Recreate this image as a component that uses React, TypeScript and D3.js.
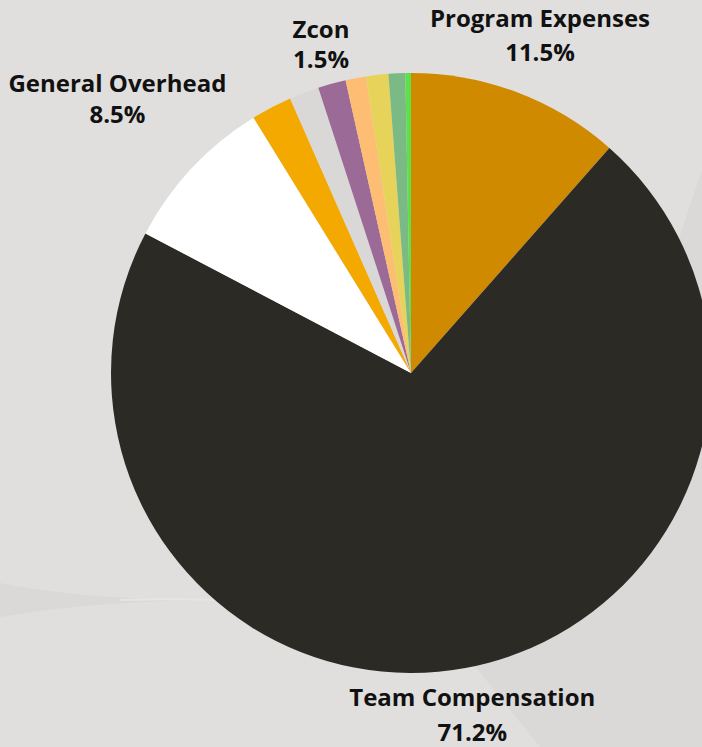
import React, {useEffect, useRef} from 'react'
import * as d3 from 'd3'

// slice order goes clockwise from 12 o'clock
const categories = [
    'Program Expenses',
    'Team Compensation',
    'General Overhead',
    'Other A',
    'Other B',
    'Zcon',
    'Other C',
    'Other D',
    'Other E',
    'Other F',
]
const shares = [11.5, 71.2, 8.5, 2.2, 1.6, 1.5, 1.1, 1.2, 0.9, 0.3]
const sliceColors = [
    '#D08A00',
    '#2C2A25',
    '#FFFFFF',
    '#F4A900',
    '#D9D8D7',
    '#9C6A96',
    '#FDBE74',
    '#E8D35A',
    '#7BBA85',
    '#5EE04A',
]
const labelled = ['Program Expenses', 'Team Compensation', 'General Overhead', 'Zcon']

// hand tweaks on top of the outside-label rule
const labelNudge: Record<string, {dx: number, dy: number, gap: number}> = {
    'Program Expenses': {dx: -23, dy: -8, gap: 34},
    'Zcon': {dx: 2, dy: 10, gap: 30},
    'General Overhead': {dx: 20, dy: -35, gap: 31},
    'Team Compensation': {dx: -19, dy: -7, gap: 35},
}

const W = 702
const H = 747

export default function App() {
    const svgRef = useRef<SVGSVGElement>(null)

    useEffect(() => {
        const svg = d3.select(svgRef.current)
        svg.selectAll('*').remove()

        // background with the soft swooshes
        svg.append('rect').attr('width', W).attr('height', H).attr('fill', '#E0DFDE')
        svg.append('path')
            .attr('d', `M ${W} 170 C 650 320, 600 520, 470 660 L 540 ${H} L ${W} ${H} Z`)
            .attr('fill', '#DAD9D8')
        svg.append('path')
            .attr('d', 'M 0 583 C 80 598, 150 600, 230 600 C 150 600, 80 604, 0 617 Z')
            .attr('fill', '#DAD9D8')
        svg.append('path')
            .attr('d', 'M 120 600 C 180 598, 240 600, 300 604')
            .attr('fill', 'none')
            .attr('stroke', '#E6E5E4')
            .attr('stroke-width', 2)

        const cx = 411
        const cy = 373
        const radius = 300

        const data = categories.map((c, i) => ({name: c, value: shares[i], color: sliceColors[i]}))

        const pie = d3.pie<any>().sort(null).value((d) => d.value)
        const arcs = pie(data)
        const arc = d3.arc<any>().innerRadius(0).outerRadius(radius)

        const g = svg.append('g').attr('transform', `translate(${cx},${cy})`)

        g.selectAll('path.slice')
            .data(arcs)
            .join('path')
            .attr('class', 'slice')
            .attr('d', arc as any)
            .attr('fill', (d) => d.data.color)

        // labels sit just outside the rim, the box pushed outward along the mid angle
        const offset = 20
        const labelG = g.append('g')
            .attr('font-family', '"Open Sans", sans-serif')
            .attr('font-weight', 700)
            .attr('font-size', 24)
            .attr('fill', '#111')
            .attr('text-anchor', 'middle')

        arcs.filter((d) => labelled.includes(d.data.name)).forEach((d) => {
            const nudge = labelNudge[d.data.name]
            const a = (d.startAngle + d.endAngle) / 2
            const sx = Math.sin(a)
            const sy = -Math.cos(a)
            const t = labelG.append('text')
            t.append('tspan').attr('x', 0).attr('dy', 0).text(d.data.name)
            t.append('tspan').attr('x', 0).attr('dy', nudge.gap).text(`${d.data.value.toFixed(1)}%`)
            const bb = (t.node() as SVGTextElement).getBBox()
            const px = sx * (radius + offset)
            const py = sy * (radius + offset)
            const bx = px + sx * bb.width / 2 + nudge.dx
            const by = py + sy * bb.height / 2 + nudge.dy
            const dx = bx - (bb.x + bb.width / 2)
            const dy = by - (bb.y + bb.height / 2)
            t.attr('transform', `translate(${dx},${dy})`)
        })
    }, [])

    return (
        <div style={{position: 'fixed', left: 0, top: 0, width: W, height: H, overflow: 'hidden'}}>
            <svg ref={svgRef} width={W} height={H} style={{display: 'block'}} />
        </div>
    )
}
